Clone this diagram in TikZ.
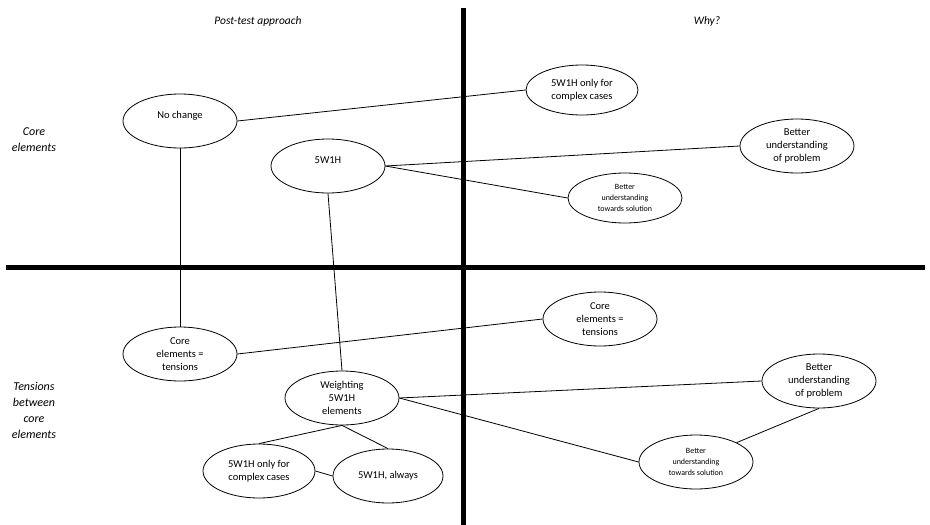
\documentclass[tikz,border=0pt]{standalone}
\usepackage{fontspec}
\setmainfont{Carlito}
\usetikzlibrary{shapes.geometric}
\tikzset{
  oval/.style={ellipse, draw, line width=0.8pt, minimum width=114pt, minimum height=54pt, inner sep=0pt, align=center, font=\fontsize{10.5}{13}\selectfont},
  ovalsmall/.style={oval, font=\fontsize{8}{11}\selectfont},
  link/.style={line width=0.8pt},
  axis/.style={line width=5pt},
  head/.style={font=\fontsize{11.5}{14}\selectfont\itshape, align=center},
  side/.style={font=\fontsize{12}{16}\selectfont\itshape, align=center}
}
\begin{document}
\begin{tikzpicture}[x=1pt,y=-1pt]
\useasboundingbox (0,0) rectangle (930,525);
% axes
\coordinate (vtop) at (463,8);
\coordinate (vbot) at (463,525);
\coordinate (hl) at (6,267);
\coordinate (hr) at (925,267);
\draw[axis] (vtop) -- (vbot);
\draw[axis] (hl) -- (hr);
% headings
\node[head] (h1) at (258,21) {Post-test approach};
\node[head] (h2) at (707,21) {Why?};
\node[side] (s1) at (34,140) {Core\\elements};
\node[side] (s2) at (34,410) {Tensions\\between\\core\\elements};
% top nodes
\node[oval] (nochange) at (180,121) {\raisebox{12pt}{No change}};
\node[oval] (fivew) at (328,166) {\raisebox{12pt}{5W1H}};
\node[oval, minimum width=112pt, minimum height=50pt] (onlyT) at (582,90) {5W1H only for\\complex cases};
\node[oval] (bupT) at (797,146) {Better\\understanding\\of problem};
\node[ovalsmall, minimum height=50pt] (butsT) at (625,198) {Better\\understanding\\towards solution};
% bottom nodes
\node[oval] (coreL) at (180,354) {Core\\elements =\\tensions};
\node[oval] (weight) at (342,398) {Weighting\\5W1H\\elements};
\node[oval, minimum width=112pt] (onlyB) at (259,471) {5W1H only for\\complex cases};
\node[oval, minimum width=110pt] (always) at (388,476) {5W1H, always};
\node[oval] (coreR) at (600,319) {Core\\elements =\\tensions};
\node[oval] (bupB) at (819,381) {Better\\understanding\\of problem};
\node[ovalsmall] (butsB) at (696,462) {Better\\understanding\\towards solution};
% connectors
\draw[link] (nochange.east) -- (onlyT.west);
\draw[link] (nochange.south) -- (coreL.north);
\draw[link] (fivew.east) -- (bupT.west);
\draw[link] (fivew.east) -- (butsT.west);
\draw[link] (fivew.south) -- (weight.north);
\draw[link] (coreL.east) -- (coreR.west);
\draw[link] (weight.east) -- (bupB.west);
\draw[link] (weight.east) -- (butsB.west);
\draw[link] (weight.south) -- (onlyB.north);
\draw[link] (weight.south) -- (always.north);
\draw[link] (onlyB.east) -- (always.west);
\draw[link] (butsB.north east) -- (bupB.south);
\end{tikzpicture}
\end{document}
